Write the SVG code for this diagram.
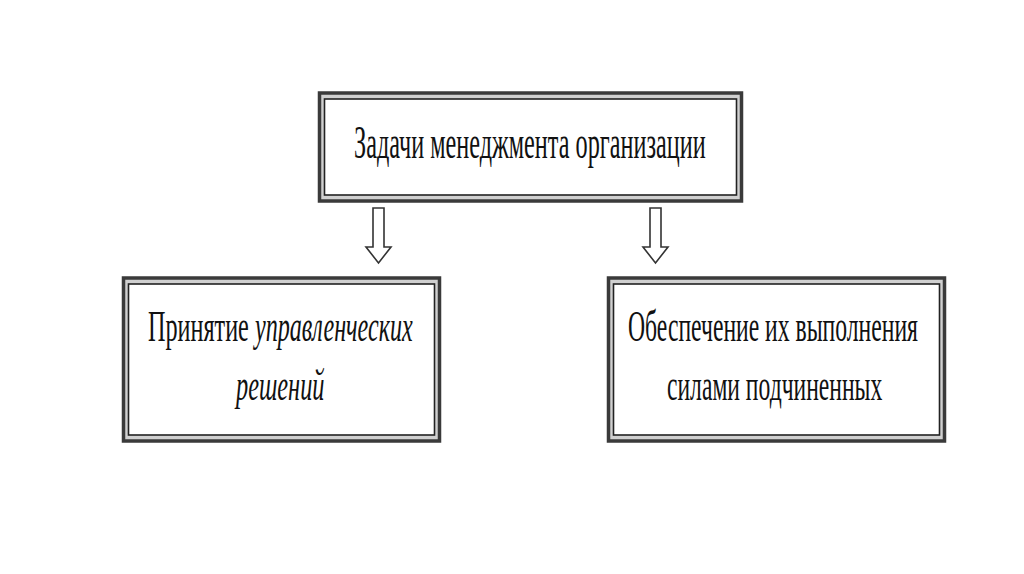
<svg xmlns="http://www.w3.org/2000/svg" width="1024" height="574" viewBox="0 0 1024 574">
<style>
.outer{fill:#d0d0d0;stroke:#3a3a3a;stroke-width:3.5}
.inner{fill:#fff;stroke:#222;stroke-width:1.6}
.t{font-family:"Liberation Serif","Times New Roman",serif;fill:#111;font-size:44px}
.big{font-size:46px}
.it{font-style:italic}
.arr{fill:#fff;stroke:#333;stroke-width:1.6;stroke-linejoin:miter}
</style>
<rect x="0" y="0" width="1024" height="574" fill="#fff"/>
<g id="node-top">
<rect class="outer" x="319.5" y="93" width="422" height="108"/>
<rect class="inner" x="324.5" y="99" width="412" height="96"/>
<text class="t big" transform="translate(354,158) scale(0.527,1)">Задачи менеджмента организации</text>
</g>
<g id="node-left">
<rect class="outer" x="123.5" y="278" width="316" height="163"/>
<rect class="inner" x="128.5" y="284" width="306" height="151"/>
<text class="t" transform="translate(148,341) scale(0.55,1)">Принятие</text>
<text class="t it" transform="translate(255,341) scale(0.548,1)">управленческих</text>
<text class="t it" transform="translate(236,400) scale(0.553,1)">решений</text>
</g>
<g id="node-right">
<rect class="outer" x="608.5" y="278" width="336" height="163"/>
<rect class="inner" x="613.5" y="284" width="326" height="151"/>
<text class="t" transform="translate(628,341) scale(0.538,1)">Обеспечение их выполнения</text>
<text class="t" transform="translate(667,400) scale(0.537,1)">силами подчиненных</text>
</g>
<g id="connectors">
<path class="arr" d="M373,208 H384 V247 H391 L378.5,263 L366,247 H373 Z"/>
<path class="arr" d="M650,208 H661 V247 H668 L655.5,263 L643,247 H650 Z"/>
</g>
</svg>
